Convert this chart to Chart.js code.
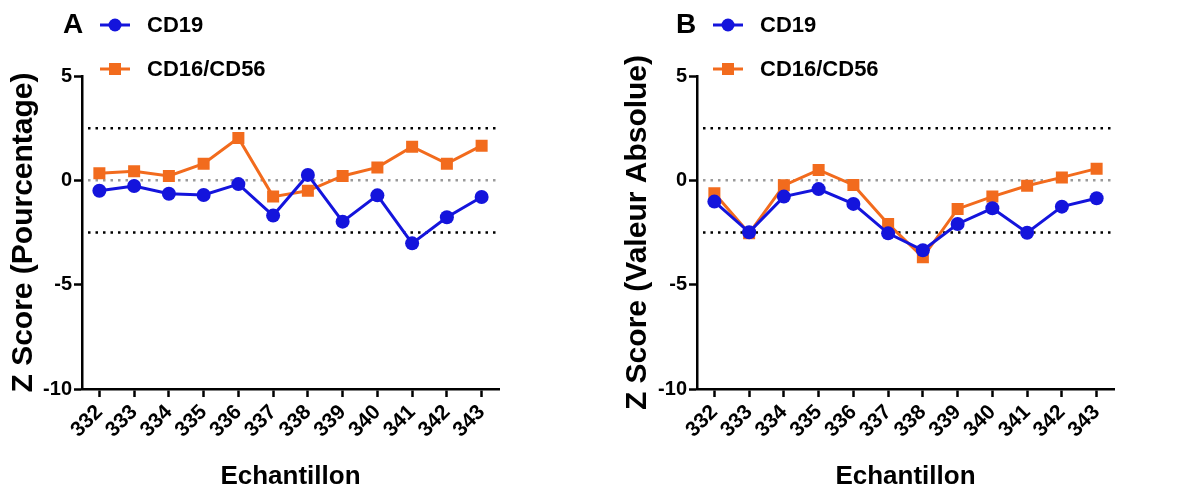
<!DOCTYPE html>
<html>
<head>
<meta charset="utf-8">
<script src="https://cdn.jsdelivr.net/npm/chart.js@4"></script>
<style>
  body { margin: 0; background: #fff; }
  .wrap { display: flex; width: 1179px; height: 492px; }
  canvas { display: block; }
</style>
</head>
<body>
<div class="wrap">
  <canvas id="chartA" width="590" height="492"></canvas>
  <canvas id="chartB" width="589" height="492"></canvas>
</div>
<script>
// data
const samples = ['332', '333', '334', '335', '336', '337', '338', '339', '340', '341', '342', '343'];
const seriesNames = ['CD19', 'CD16/CD56'];
const cd19Pct = [-0.50, -0.27, -0.64, -0.70, -0.18, -1.69, 0.26, -1.98, -0.72, -3.02, -1.77, -0.80];
const nkPct = [0.34, 0.43, 0.21, 0.80, 2.03, -0.78, -0.50, 0.21, 0.62, 1.61, 0.80, 1.66];
const cd19Abs = [-1.02, -2.49, -0.78, -0.42, -1.13, -2.54, -3.35, -2.09, -1.34, -2.51, -1.26, -0.86];
const nkAbs = [-0.62, -2.54, -0.24, 0.50, -0.22, -2.09, -3.69, -1.37, -0.78, -0.26, 0.14, 0.56];
const yMin = -10, yMax = 5, yStep = 5;
const refLines = [2.5, 0, -2.5];

const blue = '#1414dc';
const orange = '#f26b1d';
const FONT = "'Liberation Sans', Arial, sans-serif";

Chart.defaults.color = '#000';
Chart.defaults.font.family = FONT;

/* dotted threshold lines */
const refLinePlugin = {
  id: 'refLines',
  beforeDatasetsDraw(chart) {
    const ctx = chart.ctx;
    const area = chart.chartArea;
    const y = chart.scales.y;
    ctx.save();
    ctx.lineWidth = 2.5;
    ctx.setLineDash([2.5, 5]);
    refLines.forEach(v => {
      const py = y.getPixelForValue(v);
      ctx.strokeStyle = v === 0 ? '#9a9a9a' : '#000';
      ctx.beginPath();
      ctx.moveTo(area.left + 6, py);
      ctx.lineTo(area.right, py);
      ctx.stroke();
    });
    ctx.restore();
  }
};

/* panel letter + legend with line and marker */
const legendPlugin = {
  id: 'panelLegend',
  afterDraw(chart, args, opts) {
    const ctx = chart.ctx;
    const left = chart.chartArea.left;
    ctx.save();
    ctx.fillStyle = '#000';
    ctx.font = 'bold 28px ' + FONT;
    ctx.textBaseline = 'middle';
    ctx.textAlign = 'left';
    ctx.fillText(opts.letter, left + opts.letterDx, 25);

    const rows = [25, 69];
    chart.data.datasets.forEach((ds, i) => {
      const y = rows[i];
      const x0 = left + opts.lineDx;
      ctx.strokeStyle = ds.borderColor;
      ctx.lineWidth = 3;
      ctx.beginPath();
      ctx.moveTo(x0, y);
      ctx.lineTo(x0 + 30, y);
      ctx.stroke();
      ctx.fillStyle = ds.backgroundColor;
      if (ds.pointStyle === 'rect') {
        ctx.fillRect(x0 + 15 - 6, y - 6, 12, 12);
      } else {
        ctx.beginPath();
        ctx.arc(x0 + 15, y, 6.5, 0, Math.PI * 2);
        ctx.fill();
      }
      ctx.fillStyle = '#000';
      ctx.font = 'bold 22px ' + FONT;
      ctx.fillText(ds.label, x0 + 47, y + 1);
    });
    ctx.restore();
  }
};

function makePanel(id, cd19, nk, yTitle, yWidth, titlePad, letter, letterDx, lineDx, rightPad) {
  new Chart(document.getElementById(id), {
    type: 'line',
    data: {
      labels: samples,
      datasets: [
        {
          label: seriesNames[0],
          data: cd19,
          borderColor: blue,
          backgroundColor: blue,
          borderWidth: 3,
          pointStyle: 'circle',
          pointRadius: 7,
          pointBorderWidth: 0,
          tension: 0
        },
        {
          label: seriesNames[1],
          data: nk,
          borderColor: orange,
          backgroundColor: orange,
          borderWidth: 3,
          pointStyle: 'rect',
          pointRadius: 8.5,
          pointBorderWidth: 0,
          tension: 0
        }
      ]
    },
    options: {
      responsive: false,
      animation: false,
      devicePixelRatio: 1,
      layout: { padding: { top: 76, right: rightPad, bottom: 0, left: 0 } },
      plugins: {
        legend: { display: false },
        tooltip: { enabled: false },
        panelLegend: { letter: letter, letterDx: letterDx, lineDx: lineDx }
      },
      scales: {
        x: {
          offset: true,
          grid: {
            drawOnChartArea: false,
            drawTicks: true,
            tickLength: 8,
            tickWidth: 2.5,
            tickColor: '#000'
          },
          border: { display: true, color: '#000', width: 2.5 },
          ticks: {
            autoSkip: false,
            minRotation: 45,
            maxRotation: 45,
            padding: 3,
            font: { size: 21, weight: 'bold' }
          },
          title: {
            display: true,
            text: 'Echantillon',
            font: { size: 26, weight: 'bold' },
            padding: { top: 0, bottom: 0 }
          },
          afterFit(scale) { scale.height = 103; }
        },
        y: {
          min: yMin,
          max: yMax,
          grid: {
            drawOnChartArea: false,
            drawTicks: true,
            tickLength: 8,
            tickWidth: 2.5,
            tickColor: '#000'
          },
          border: { display: true, color: '#000', width: 2.5 },
          ticks: {
            stepSize: yStep,
            padding: 2,
            font: { size: 20, weight: 'bold' }
          },
          title: {
            display: true,
            text: yTitle,
            font: { size: 30, weight: 'bold' },
            padding: { top: titlePad, bottom: 0 }
          },
          afterFit(scale) { scale.width = yWidth; }
        }
      }
    },
    plugins: [refLinePlugin, legendPlugin]
  });
}

makePanel('chartA', cd19Pct, nkPct, 'Z Score (Pourcentage)', 82, 6, 'A', -19, 18, 91);
makePanel('chartB', cd19Abs, nkAbs, 'Z Score (Valeur Absolue)', 107, 30, 'B', -21, 16, 65);
</script>
</body>
</html>
